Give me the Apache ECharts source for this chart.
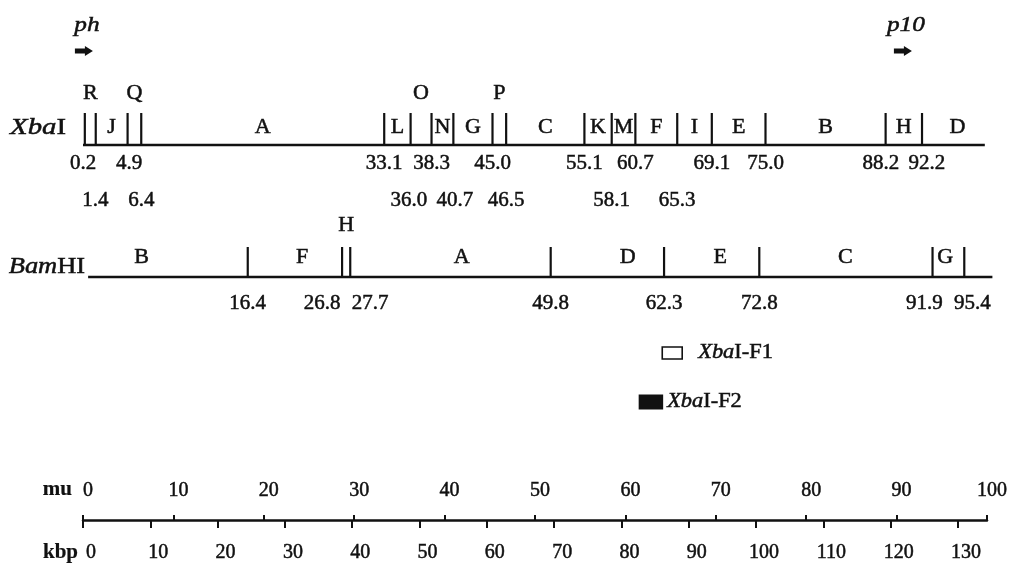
<!DOCTYPE html>
<html><head><meta charset="utf-8">
<script src="https://cdn.jsdelivr.net/npm/echarts@6/dist/echarts.min.js"></script>
<style>html,body{margin:0;padding:0;background:#fff}#c{width:1012px;height:564px}</style>
</head><body><div id="c"></div>
<script>
// ---------------- data (map units = mu) ----------------
const xbaSites = [0.2, 1.4, 4.9, 6.4, 33.1, 36.0, 38.3, 40.7, 45.0, 46.5, 55.1, 58.1, 60.7, 65.3, 69.1, 75.0, 88.2, 92.2];
const xbaTier = [1, 2, 1, 2, 1, 2, 1, 2, 1, 2, 1, 2, 1, 2, 1, 1, 1, 1];
const xbaFragments = ['R', 'J', 'Q', 'A', 'L', 'O', 'N', 'G', 'P', 'C', 'K', 'M', 'F', 'I', 'E', 'B', 'H', 'D'];
const xbaRaised = ['R', 'Q', 'O', 'P'];
const bamSites = [16.4, 26.8, 27.7, 49.8, 62.3, 72.8, 91.9, 95.4];
const bamFragments = ['B', 'F', 'H', 'A', 'D', 'E', 'C', 'G'];
const bamFragmentAt = [4.7, 22.4, 27.25, 40.0, 58.3, 68.5, 82.3, 93.3];
const bamRaised = ['H'];
const promoterNames = ['ph', 'p10'];
const promoterAt = [0.1, 90.1];
const probeNames = ['XbaI-F1', 'XbaI-F2'];
const probeFrom = [62.1, 59.5];
const probeTo = [64.3, 62.2];
const muTicks = [0, 10, 20, 30, 40, 50, 60, 70, 80, 90, 100];
const kbpTicks = [0, 10, 20, 30, 40, 50, 60, 70, 80, 90, 100, 110, 120, 130];
const genomeKbp = 134.3;
const scaleNames = ['mu', 'kbp'];

// ---------------- layout / style ----------------
const FONT = '"Liberation Serif","Times New Roman",serif';
const INK = '#111';
const HEAVY = 0.5;
const XBA_LINE = [0, 99.1];
const BAM_LINE = [-1.2, 98.5];

function txt(x, y, text, size, o) {
  o = o || {};
  const st = {
    text: text, fill: INK, stroke: INK, lineWidth: o.heavy != null ? o.heavy : HEAVY,
    fontFamily: FONT, fontSize: size,
    fontStyle: o.italic ? 'italic' : 'normal', fontWeight: o.bold ? 'bold' : 'normal',
    align: o.align || 'center', verticalAlign: 'middle'
  };
  if (o.rich) {
    st.rich = { i: { fontFamily: FONT, fontSize: size, fontStyle: 'italic', fill: INK, stroke: INK, lineWidth: HEAVY } };
  }
  return { type: 'text', x: x, y: y, scaleX: o.sx || 1, style: st };
}
function enzymeRich(s) { return s.replace(/^(Xba|Bam)/, '{i|$1}'); }
function relax(xs, gap) {
  for (let it = 0; it < 60; it++) {
    for (let j = 1; j < xs.length; j++) {
      const d = xs[j] - xs[j - 1];
      if (d < gap) { const s = (gap - d) / 2; xs[j - 1] -= s; xs[j] += s; }
    }
  }
  return xs;
}

function backbone(gi, ext, label, labelDy, labelGap, sx) {
  return {
    type: 'custom', xAxisIndex: gi, yAxisIndex: gi, clip: false, silent: true,
    data: [[ext[0], ext[1]]],
    renderItem(p, api) {
      const a = api.coord([api.value(0), 0]), b = api.coord([api.value(1), 0]);
      return { type: 'group', children: [
        { type: 'line', shape: { x1: a[0], y1: a[1], x2: b[0], y2: b[1] }, style: { stroke: INK, lineWidth: 2.6 } },
        txt(a[0] - labelGap, a[1] + labelDy, enzymeRich(label), 23, { align: 'right', rich: true, sx: sx })
      ] };
    }
  };
}

function sites(gi, list, tiers, tierDy, gap) {
  return {
    type: 'custom', xAxisIndex: gi, yAxisIndex: gi, clip: false, silent: true,
    data: list.map((v, i) => [v, tiers ? tiers[i] : 1, i]),
    renderItem(p, api) {
      const v = api.value(0), tier = api.value(1), i = api.value(2);
      const top = api.coord([v, 1]), bot = api.coord([v, 0]);
      const idx = [];
      list.forEach((s, k) => { if ((tiers ? tiers[k] : 1) === tier) idx.push(k); });
      const xs = relax(idx.map(k => api.coord([list[k], 0])[0]), gap);
      const lx = xs[idx.indexOf(i)];
      return { type: 'group', children: [
        { type: 'line', shape: { x1: top[0], y1: top[1], x2: bot[0], y2: bot[1] }, style: { stroke: INK, lineWidth: 2.2 } },
        txt(lx, bot[1] + tierDy[tier], v.toFixed(1), 20, { sx: 1.05 })
      ] };
    }
  };
}

function fragLabels(gi, names, at, raised, dyLow, dyHigh) {
  return {
    type: 'custom', xAxisIndex: gi, yAxisIndex: gi, clip: false, silent: true,
    data: names.map((n, i) => [at[i], i]),
    renderItem(p, api) {
      const i = api.value(1), n = names[i];
      const c = api.coord([api.value(0), 0]);
      const dy = raised.indexOf(n) >= 0 ? dyHigh : dyLow;
      return txt(c[0], c[1] + dy, n, 21, { sx: 1.05 });
    }
  };
}

const xbaMid = xbaFragments.map((n, i) => (xbaSites[i] + (i + 1 < xbaSites.length ? xbaSites[i + 1] : 100)) / 2);

const promoterSeries = {
  type: 'custom', xAxisIndex: 0, yAxisIndex: 0, clip: false, silent: true,
  data: promoterAt.map((v, i) => [v, i]),
  renderItem(p, api) {
    const c = api.coord([api.value(0), 0]);
    const x = c[0], y = c[1] - 94;
    const pts = [[-9, -2.5], [1, -2.5], [1, -5], [9, 0], [1, 5], [1, 2.5], [-9, 2.5]].map(q => [x + q[0], y + q[1]]);
    return { type: 'group', children: [
      { type: 'polygon', shape: { points: pts }, style: { fill: INK } },
      txt(x + 3, c[1] - 120, promoterNames[api.value(1)], 22, { italic: true, sx: 1.15 })
    ] };
  }
};

const probeDy = [76, 125], probeH = [12, 15], probeGap = [16, 4];
const probeSeries = {
  type: 'custom', xAxisIndex: 1, yAxisIndex: 1, clip: false, silent: true,
  data: probeNames.map((n, i) => [probeFrom[i], probeTo[i], i]),
  renderItem(p, api) {
    const i = api.value(2);
    const a = api.coord([api.value(0), 0]), b = api.coord([api.value(1), 0]);
    const cy = a[1] + probeDy[i], h = probeH[i];
    const filled = i === 1;
    return { type: 'group', children: [
      { type: 'rect', shape: { x: a[0], y: cy - h / 2, width: b[0] - a[0], height: h },
        style: filled ? { fill: INK } : { fill: '#fff', stroke: INK, lineWidth: 1.6 } },
      txt(b[0] + probeGap[i], cy, enzymeRich(probeNames[i]), 20, { align: 'left', rich: true, sx: 1.12 })
    ] };
  }
};

// scale names ("mu" above the line, "kbp" below), anchored at the scale origin
const scaleDy = [-29, 34], scaleGap = [11, 5];
const scaleNameSeries = {
  type: 'custom', xAxisIndex: 2, yAxisIndex: 2, clip: false, silent: true,
  data: scaleNames.map((n, i) => [0, i]),
  renderItem(p, api) {
    const i = api.value(1);
    const c = api.coord([0, 1]);
    return txt(c[0] - scaleGap[i], c[1] + scaleDy[i], scaleNames[i], 21, { align: 'right', bold: true, heavy: 0.2 });
  }
};

const axisFont = { fontFamily: FONT, fontSize: 20, color: INK, textBorderColor: INK, textBorderWidth: HEAVY };

const option = {
  animation: false,
  backgroundColor: '#fff',
  grid: [
    { left: 83, width: 910, top: 113, height: 32 },
    { left: 99, width: 907, top: 247, height: 30 },
    { left: 83, width: 904, top: 519, height: 1 }
  ],
  xAxis: [
    { gridIndex: 0, type: 'value', min: 0, max: 100, show: false },
    { gridIndex: 1, type: 'value', min: 0, max: 100, show: false },
    { gridIndex: 2, type: 'value', min: 0, max: 100, position: 'top',
      axisLine: { lineStyle: { color: INK, width: 2.5 } },
      axisTick: { customValues: muTicks, length: 5, lineStyle: { color: INK, width: 2 } },
      axisLabel: Object.assign({ customValues: muTicks, margin: 18, padding: [0, 0, 0, 10] }, axisFont),
      splitLine: { show: false } },
    { gridIndex: 2, type: 'value', min: 0, max: genomeKbp, position: 'bottom',
      axisLine: { show: false },
      axisTick: { customValues: kbpTicks, length: 8, lineStyle: { color: INK, width: 2 } },
      axisLabel: Object.assign({ customValues: kbpTicks, margin: 23, padding: [0, 0, 0, 16] }, axisFont),
      splitLine: { show: false } }
  ],
  yAxis: [
    { gridIndex: 0, type: 'value', min: 0, max: 1, show: false },
    { gridIndex: 1, type: 'value', min: 0, max: 1, show: false },
    { gridIndex: 2, type: 'value', min: 0, max: 1, show: false }
  ],
  series: [
    backbone(0, XBA_LINE, 'XbaI', -17, 17, 1.25),
    sites(0, xbaSites, xbaTier, { 1: 19, 2: 56 }, 46),
    fragLabels(0, xbaFragments, xbaMid, xbaRaised, -18, -52),
    promoterSeries,
    backbone(1, BAM_LINE, 'BamHI', -10, 3, 1.15),
    sites(1, bamSites, null, { 1: 27 }, 48),
    fragLabels(1, bamFragments, bamFragmentAt, bamRaised, -20, -52),
    probeSeries,
    scaleNameSeries
  ]
};

const chart = echarts.init(document.getElementById('c'));
chart.setOption(option);
</script>
</body></html>
